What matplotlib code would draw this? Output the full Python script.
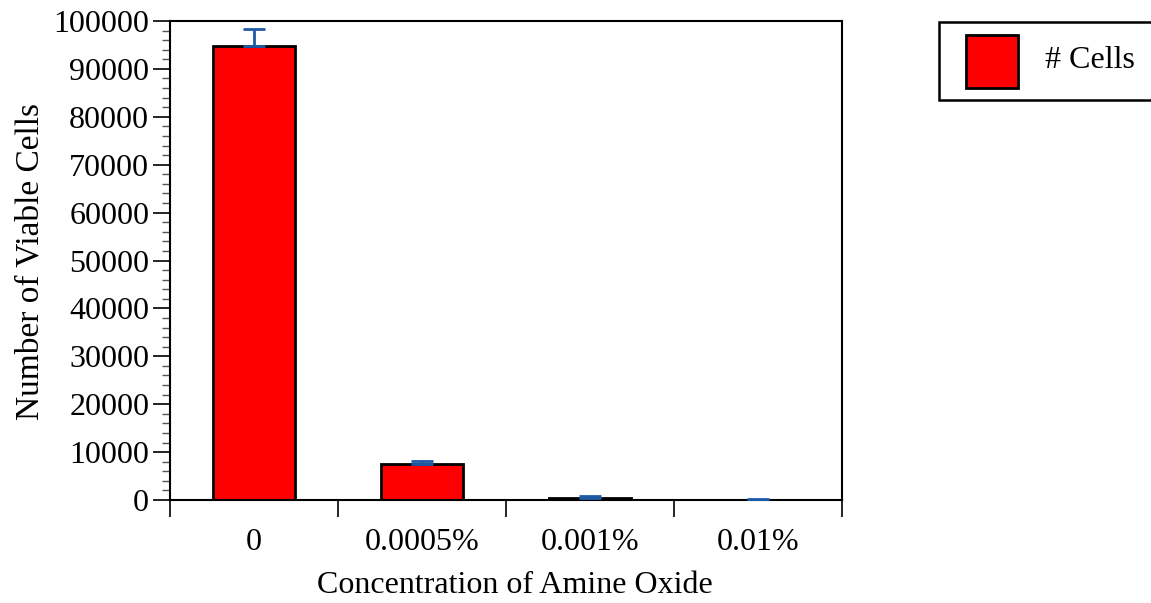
import matplotlib
matplotlib.use('Agg')
import matplotlib.pyplot as plt
from matplotlib.patches import Rectangle
from matplotlib.ticker import MultipleLocator, FixedLocator

# values
categories = ["0", "0.0005%", "0.001%", "0.01%"]
cells = [94700, 7600, 400, 20]
cells_err = [3600, 550, 500, 230]
series_name = "# Cells"

plt.rcParams['font.family'] = ['Liberation Serif', 'DejaVu Serif']

fig = plt.figure(figsize=(11.51, 6.03), dpi=100)
ax = fig.add_axes([170 / 1151, 1 - 500 / 603, 672 / 1151, 479 / 603])

x = list(range(len(categories)))
ax.bar(x, cells, width=0.49, color='#ff0000', edgecolor='black', linewidth=2, zorder=2)
# only the upper half of the error bar is drawn
ax.errorbar(x, cells, yerr=[[0] * len(cells), cells_err], fmt='none',
            ecolor='#1f5aa6', elinewidth=2, capsize=8, capthick=2, zorder=3)

ax.set_xlim(-0.5, len(categories) - 0.5)
ax.set_ylim(0, 100000)

for s in ax.spines.values():
    s.set_linewidth(1.5)

# y axis
ax.yaxis.set_major_locator(MultipleLocator(10000))
ax.yaxis.set_minor_locator(MultipleLocator(2000))
ax.tick_params(axis='y', which='major', length=12, width=1.2, labelsize=23, pad=3)
ax.tick_params(axis='y', which='minor', length=6, width=1.0, color='#555555')

# x axis: labels at centres, ticks at category boundaries
ax.set_xticks(x)
ax.set_xticklabels(categories)
ax.xaxis.set_minor_locator(FixedLocator([i - 0.5 for i in range(len(categories) + 1)]))
ax.tick_params(axis='x', which='major', length=0, labelsize=23, pad=20)
ax.tick_params(axis='x', which='minor', length=12, width=1.2)

ax.set_ylabel("Number of Viable Cells", fontsize=24)
ax.set_xlabel("Concentration of Amine Oxide", fontsize=23)
ax.yaxis.set_label_coords(-0.186, 0.497)
ax.xaxis.set_label_coords(0.513, -0.148)

# legend box (runs off the right edge like the original)
W, H = 1151, 603
fig.add_artist(Rectangle((939 / W, 1 - 100 / H), 230 / W, 78 / H, transform=fig.transFigure,
                         facecolor='white', edgecolor='black', linewidth=1.8))
fig.add_artist(Rectangle((966 / W, 1 - 88 / H), 52 / W, 53 / H, transform=fig.transFigure,
                         facecolor='#ff0000', edgecolor='black', linewidth=2))
fig.text(1045 / W, 1 - 61 / H, series_name, fontsize=23, va='center', ha='left')

fig.savefig('out.png', dpi=100)
